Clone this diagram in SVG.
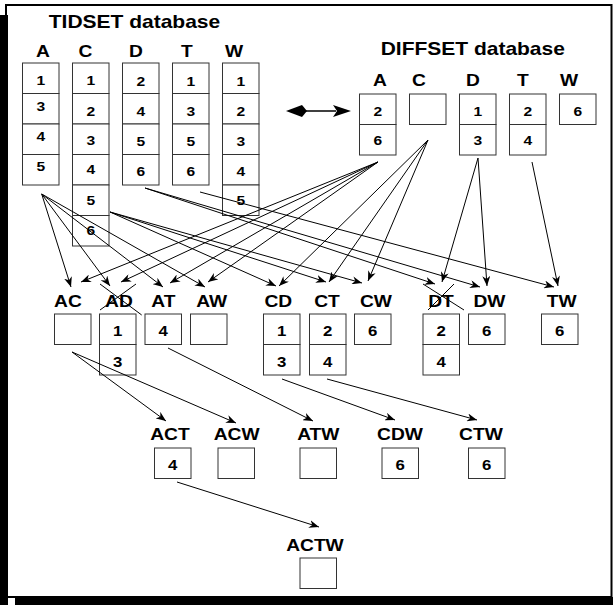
<svg xmlns="http://www.w3.org/2000/svg" width="613" height="605" viewBox="0 0 613 605">
<style>
.t{font-family:"Liberation Sans",Arial,Helvetica,sans-serif;font-weight:bold;text-anchor:middle;fill:#000;transform-box:fill-box;transform-origin:center;transform:scaleX(1.2)}
.h{font-size:16px}
.ti{font-size:17.5px}
.d{font-size:13px}
.d2{font-size:14px}
.c{fill:#fff;stroke:#333;stroke-width:1}
.e{stroke:#000;stroke-width:1;fill:none;marker-end:url(#ah)}
.x{stroke:#000;stroke-width:1}
</style>
<defs>
<marker id="ah" viewBox="0 0 10 8" refX="10" refY="4" markerWidth="10" markerHeight="8" markerUnits="userSpaceOnUse" orient="auto">
<path d="M0,0 L10,4 L0,8 L3,4 z" fill="#000"/>
</marker>
</defs>
<rect x="0" y="0" width="613" height="605" fill="#fff"/>
<g id="frame">
<rect x="6" y="5" width="605.5" height="592" fill="none" stroke="#000" stroke-width="2"/>
<rect x="0" y="15" width="8" height="590" fill="#000"/>
<rect x="15" y="597" width="598" height="8" fill="#000"/>
</g>
<g id="titles">
<text class="t ti" x="134.5" y="28.3">TIDSET database</text>
<text class="t ti" x="472.8" y="55">DIFFSET database</text>
</g>
<g id="tid-A">
<text class="t h" x="43" y="56.7">A</text>
<rect class="c" x="22.5" y="63" width="36.5" height="30.5"/><rect class="c" x="22.5" y="93.5" width="36.5" height="30.5"/><rect class="c" x="22.5" y="124" width="36.5" height="30.5"/><rect class="c" x="22.5" y="154.5" width="36.5" height="30.5"/>
<text class="t d" x="40.75" y="85">1</text><text class="t d" x="40.75" y="111.5">3</text><text class="t d" x="40.75" y="141.5">4</text><text class="t d" x="40.75" y="171">5</text>
</g>
<g id="tid-C">
<text class="t h" x="85.5" y="56.7">C</text>
<rect class="c" x="72.5" y="63" width="36.5" height="30.5"/><rect class="c" x="72.5" y="93.5" width="36.5" height="30.5"/><rect class="c" x="72.5" y="124" width="36.5" height="30.5"/><rect class="c" x="72.5" y="154.5" width="36.5" height="30.5"/><rect class="c" x="72.5" y="185" width="36.5" height="30.5"/><rect class="c" x="72.5" y="215.5" width="36.5" height="30.5"/>
<text class="t d" x="90.75" y="85.5">1</text><text class="t d" x="90.75" y="116.5">2</text><text class="t d" x="90.75" y="145.5">3</text><text class="t d" x="90.75" y="174.5">4</text><text class="t d" x="90.75" y="205">5</text><text class="t d" x="90.75" y="235.5">6</text>
</g>
<g id="tid-D">
<text class="t h" x="136" y="56.7">D</text>
<rect class="c" x="122.5" y="63" width="36.5" height="30.5"/><rect class="c" x="122.5" y="93.5" width="36.5" height="30.5"/><rect class="c" x="122.5" y="124" width="36.5" height="30.5"/><rect class="c" x="122.5" y="154.5" width="36.5" height="30.5"/>
<text class="t d" x="140.75" y="86.5">2</text><text class="t d" x="140.75" y="116.5">4</text><text class="t d" x="140.75" y="146.5">5</text><text class="t d" x="140.75" y="176.5">6</text>
</g>
<g id="tid-T">
<text class="t h" x="187" y="56.7">T</text>
<rect class="c" x="172.5" y="63" width="36.5" height="30.5"/><rect class="c" x="172.5" y="93.5" width="36.5" height="30.5"/><rect class="c" x="172.5" y="124" width="36.5" height="30.5"/><rect class="c" x="172.5" y="154.5" width="36.5" height="30.5"/>
<text class="t d" x="190.75" y="86">1</text><text class="t d" x="190.75" y="116.5">3</text><text class="t d" x="190.75" y="146.5">5</text><text class="t d" x="190.75" y="176.5">6</text>
</g>
<g id="tid-W">
<text class="t h" x="234" y="56.7">W</text>
<rect class="c" x="222.5" y="63" width="36.5" height="30.5"/><rect class="c" x="222.5" y="93.5" width="36.5" height="30.5"/><rect class="c" x="222.5" y="124" width="36.5" height="30.5"/><rect class="c" x="222.5" y="154.5" width="36.5" height="30.5"/><rect class="c" x="222.5" y="185" width="36.5" height="30.5"/>
<text class="t d" x="240.75" y="86">1</text><text class="t d" x="240.75" y="116.5">2</text><text class="t d" x="240.75" y="146.5">3</text><text class="t d" x="240.75" y="176.5">4</text><text class="t d" x="240.75" y="205.5">5</text>
</g>
<g id="diff-A">
<text class="t h" x="380" y="86">A</text>
<rect class="c" x="359.5" y="94" width="36.5" height="30.5"/><rect class="c" x="359.5" y="124.5" width="36.5" height="30.5"/>
<text class="t d" x="377.75" y="116.5">2</text><text class="t d" x="377.75" y="145.5">6</text>
</g>
<g id="diff-C">
<text class="t h" x="419" y="86">C</text>
<rect class="c" x="409.5" y="94" width="36.5" height="30.5"/>
</g>
<g id="diff-D">
<text class="t h" x="473" y="86">D</text>
<rect class="c" x="459.5" y="94" width="36.5" height="30.5"/><rect class="c" x="459.5" y="124.5" width="36.5" height="30.5"/>
<text class="t d" x="477.75" y="116.5">1</text><text class="t d" x="477.75" y="145.5">3</text>
</g>
<g id="diff-T">
<text class="t h" x="523" y="86">T</text>
<rect class="c" x="509.5" y="94" width="36.5" height="30.5"/><rect class="c" x="509.5" y="124.5" width="36.5" height="30.5"/>
<text class="t d" x="527.75" y="116.5">2</text><text class="t d" x="527.75" y="145.5">4</text>
</g>
<g id="diff-W">
<text class="t h" x="569" y="86">W</text>
<rect class="c" x="559.5" y="94" width="36.5" height="30.5"/>
<text class="t d" x="577.75" y="116.5">6</text>
</g>
<g id="conv-arrow">
<line x1="304" y1="111" x2="336" y2="111" stroke="#000" stroke-width="1.5"/>
<polygon points="286,111 302,105 307,111 302,117" fill="#000"/>
<polygon points="351,111 333,105 337,111 333,117" fill="#000"/>
</g>
<g id="AC"><text class="t h" x="68" y="306.7">AC</text><rect class="c" x="54.5" y="314" width="36.5" height="30.5"/></g>
<g id="AD"><text class="t h" x="119" y="306.7">AD</text><rect class="c" x="99.5" y="314" width="36.5" height="30.5"/><rect class="c" x="99.5" y="344.5" width="36.5" height="30.5"/><text class="t d2" x="117.75" y="336.5">1</text><text class="t d2" x="117.75" y="366.5">3</text>
<line class="x" x1="100" y1="284" x2="141.7" y2="315"/><line class="x" x1="136" y1="284" x2="100" y2="310"/></g>
<g id="AT"><text class="t h" x="163.3" y="306.7">AT</text><rect class="c" x="145" y="314" width="36.5" height="30.5"/><text class="t d2" x="163.25" y="336.5">4</text></g>
<g id="AW"><text class="t h" x="211.7" y="306.7">AW</text><rect class="c" x="190.5" y="314" width="36.5" height="30.5"/></g>
<g id="CD"><text class="t h" x="278.3" y="306.7">CD</text><rect class="c" x="263.5" y="314" width="36.5" height="30.5"/><rect class="c" x="263.5" y="344.5" width="36.5" height="30.5"/><text class="t d2" x="281.75" y="336.5">1</text><text class="t d2" x="281.75" y="366.5">3</text></g>
<g id="CT"><text class="t h" x="327" y="306.7">CT</text><rect class="c" x="309.5" y="314" width="36.5" height="30.5"/><rect class="c" x="309.5" y="344.5" width="36.5" height="30.5"/><text class="t d2" x="327.75" y="336.5">2</text><text class="t d2" x="327.75" y="366.5">4</text></g>
<g id="CW"><text class="t h" x="376" y="306.7">CW</text><rect class="c" x="354.5" y="314" width="36.5" height="30.5"/><text class="t d2" x="372.75" y="336.5">6</text></g>
<g id="DT"><text class="t h" x="441" y="306.7">DT</text><rect class="c" x="423" y="314" width="36.5" height="30.5"/><rect class="c" x="423" y="344.5" width="36.5" height="30.5"/><text class="t d2" x="441.25" y="336.5">2</text><text class="t d2" x="441.25" y="366.5">4</text>
<line class="x" x1="423" y1="284" x2="464" y2="310"/><line class="x" x1="454" y1="284" x2="428" y2="310"/></g>
<g id="DW"><text class="t h" x="489.5" y="306.7">DW</text><rect class="c" x="468.5" y="314" width="36.5" height="30.5"/><text class="t d2" x="486.75" y="336.5">6</text></g>
<g id="TW"><text class="t h" x="561.7" y="306.7">TW</text><rect class="c" x="541.5" y="314" width="36.5" height="30.5"/><text class="t d2" x="559.75" y="336.5">6</text></g>
<g id="ACT"><text class="t h" x="170" y="440">ACT</text><rect class="c" x="154.5" y="448" width="36.5" height="30.5"/><text class="t d2" x="172.75" y="470.5">4</text></g>
<g id="ACW"><text class="t h" x="236.7" y="440">ACW</text><rect class="c" x="218" y="448" width="36.5" height="30.5"/></g>
<g id="ATW"><text class="t h" x="318.3" y="440">ATW</text><rect class="c" x="300" y="448" width="36.5" height="30.5"/></g>
<g id="CDW"><text class="t h" x="400" y="440">CDW</text><rect class="c" x="382" y="448" width="36.5" height="30.5"/><text class="t d2" x="400.25" y="470.5">6</text></g>
<g id="CTW"><text class="t h" x="481" y="440">CTW</text><rect class="c" x="468.5" y="448" width="36.5" height="30.5"/><text class="t d2" x="486.75" y="470.5">6</text></g>
<g id="ACTW"><text class="t h" x="315" y="550.7">ACTW</text><rect class="c" x="300" y="558" width="36.5" height="30.5"/></g>
<g id="connectors">
<line class="e" x1="41.7" y1="194" x2="71" y2="287"/>
<line class="e" x1="41.7" y1="194" x2="110" y2="286"/>
<line class="e" x1="41.7" y1="194" x2="163" y2="287"/>
<line class="e" x1="41.7" y1="194" x2="205" y2="287"/>
<line class="e" x1="378" y1="162" x2="81" y2="282"/>
<line class="e" x1="378" y1="162" x2="121" y2="282"/>
<line class="e" x1="378" y1="162" x2="170" y2="283"/>
<line class="e" x1="378" y1="162" x2="208" y2="282"/>
<line class="e" x1="110" y1="212" x2="276" y2="286"/>
<line class="e" x1="110" y1="212" x2="326" y2="282"/>
<line class="e" x1="110" y1="212" x2="362" y2="283"/>
<line class="e" x1="428" y1="140" x2="279" y2="286"/>
<line class="e" x1="428" y1="140" x2="329" y2="282"/>
<line class="e" x1="428" y1="140" x2="368" y2="281"/>
<line class="e" x1="145" y1="188" x2="435" y2="284"/>
<line class="e" x1="145" y1="188" x2="480" y2="287"/>
<line class="e" x1="478" y1="158" x2="442" y2="282"/>
<line class="e" x1="478" y1="158" x2="487" y2="286"/>
<line class="e" x1="200" y1="192" x2="554" y2="287"/>
<line class="e" x1="532" y1="162" x2="558" y2="286"/>
<line class="e" x1="72" y1="352" x2="166" y2="421"/>
<line class="e" x1="72" y1="352" x2="236" y2="423"/>
<line class="e" x1="168" y1="348" x2="313" y2="421"/>
<line class="e" x1="282" y1="379" x2="395" y2="420"/>
<line class="e" x1="327" y1="379" x2="477" y2="420"/>
<line class="e" x1="177" y1="482" x2="319" y2="527"/>
</g>
</svg>
